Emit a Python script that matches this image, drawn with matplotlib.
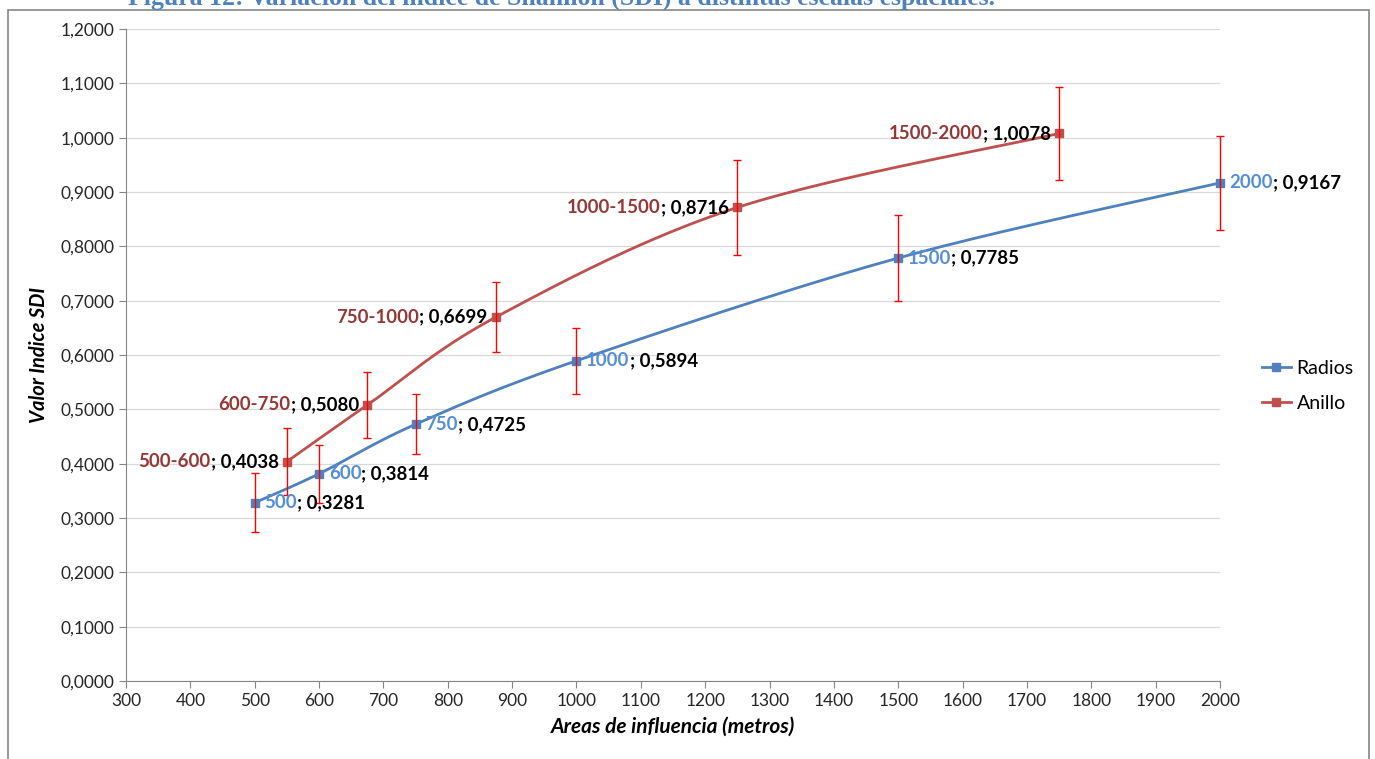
import matplotlib
matplotlib.use("Agg")
import matplotlib.pyplot as plt
from matplotlib.patches import Rectangle
from matplotlib.ticker import FuncFormatter, MultipleLocator
import numpy as np

plt.rcParams['font.family'] = ['Lato', 'DejaVu Sans']

# data
radios_x = [500, 600, 750, 1000, 1500, 2000]
radios_y = [0.3281, 0.3814, 0.4725, 0.5894, 0.7785, 0.9167]
radios_err = [0.054, 0.053, 0.055, 0.061, 0.080, 0.087]
radios_names = ['500', '600', '750', '1000', '1500', '2000']

anillo_x = [550, 675, 875, 1250, 1750]
anillo_y = [0.4038, 0.5080, 0.6699, 0.8716, 1.0078]
anillo_err = [0.061, 0.060, 0.065, 0.087, 0.085]
anillo_names = ['500-600', '600-750', '750-1000', '1000-1500', '1500-2000']

x_ticks = list(range(300, 2001, 100))

BLUE = '#4F81BD'
RED = '#C0504D'
BLUE_LBL = '#558ED5'
RED_LBL = '#953735'


def smooth(xs, ys, sx, sy, n=40):
    """Excel style smoothed line (Catmull-Rom as cubic Bezier), done in screen-like units"""
    p = np.column_stack([np.asarray(xs, float) * sx, np.asarray(ys, float) * sy])
    pts = np.vstack([p[0], p, p[-1]])
    out = []
    t = np.linspace(0, 1, n)[:, None]
    for i in range(1, len(pts) - 2):
        p0, p1, p2, p3 = pts[i - 1], pts[i], pts[i + 1], pts[i + 2]
        c1 = p1 + (p2 - p0) / 6.0
        c2 = p2 - (p3 - p1) / 6.0
        seg = ((1 - t) ** 3) * p1 + 3 * ((1 - t) ** 2) * t * c1 + 3 * (1 - t) * t ** 2 * c2 + t ** 3 * p2
        out.append(seg if i == 1 else seg[1:])
    out = np.vstack(out)
    return out[:, 0] / sx, out[:, 1] / sy


fig = plt.figure(figsize=(13.75, 7.59), dpi=100)
ax = fig.add_axes([126 / 1375, 1 - 681 / 759, (1220 - 126) / 1375, (681 - 29) / 759])

# chart frame and the caption above it (partly off the top, as in the source)
fig.patches.append(Rectangle((8 / 1375, -0.05), (1369 - 8) / 1375, 1.05 - 10 / 759,
                             transform=fig.transFigure, fill=False, edgecolor='#868686', lw=1.2))
fig.text(561 / 1375, 1 - 5 / 759,
         'Figura 12: Variación del índice de Shannon (SDI) a distintas escalas espaciales.',
         ha='center', va='baseline', fontsize=18.5, fontweight='bold',
         family='Liberation Serif', color=BLUE)

sx = 1094 / 1700.0
sy = 543.3 / 0.1

for xs, ys, err, col, lab in [(radios_x, radios_y, radios_err, BLUE, 'Radios'),
                              (anillo_x, anillo_y, anillo_err, RED, 'Anillo')]:
    cx, cy = smooth(xs, ys, sx, sy)
    ax.plot(cx, cy, color=col, lw=2.0, zorder=3, solid_capstyle='round', clip_on=False)
    ax.plot(xs, ys, ls='none', marker='s', ms=5.5, color=col, zorder=4, clip_on=False)
    ax.plot([], [], color=col, lw=2.0, marker='s', ms=5.5, label=lab)
    eb = ax.errorbar(xs, ys, yerr=err, fmt='none', ecolor='#FF0000', elinewidth=1.0,
                     capsize=3, capthick=1.0, zorder=5)
    for art in eb.lines[1] + eb.lines[2]:
        art.set_clip_on(False)

# data labels
lbl_size = 13.4
for x, y, name in zip(radios_x, radios_y, radios_names):
    t1 = ax.annotate(name, (x, y), xytext=(7, 0), textcoords='offset points',
                     ha='left', va='center', fontsize=lbl_size, fontweight='bold',
                     color=BLUE_LBL, zorder=6)
    ax.annotate('; ' + f'{y:.4f}'.replace('.', ','), xy=(1, 0), xycoords=t1,
                ha='left', va='bottom', fontsize=lbl_size, fontweight='bold', color='black', zorder=6)

for x, y, name in zip(anillo_x, anillo_y, anillo_names):
    t1 = ax.annotate('; ' + f'{y:.4f}'.replace('.', ','), (x, y), xytext=(-6, 0),
                     textcoords='offset points', ha='right', va='center', fontsize=lbl_size,
                     fontweight='bold', color='black', zorder=6)
    ax.annotate(name, xy=(0, 0), xycoords=t1, ha='right', va='bottom', fontsize=lbl_size,
                fontweight='bold', color=RED_LBL, zorder=6)

ax.set_xlim(300, 2000)
ax.set_ylim(0, 1.2)
ax.set_xticks(x_ticks)
ax.yaxis.set_major_locator(MultipleLocator(0.1))
ax.yaxis.set_major_formatter(FuncFormatter(lambda v, p: f'{v:.4f}'.replace('.', ',')))
ax.grid(axis='y', color='#D9D9D9', lw=0.9)
ax.set_axisbelow(True)
for s in ['top', 'right']:
    ax.spines[s].set_visible(False)
for s in ['left', 'bottom']:
    ax.spines[s].set_color('#868686')
ax.tick_params(axis='both', colors='#868686', labelcolor='#262626', labelsize=12.5, length=5)
ax.set_xlabel('Areas de influencia (metros)', fontsize=15, fontweight='bold',
              style='italic', labelpad=6)
ax.set_ylabel('Valor Indice SDI', fontsize=14.5, fontweight='bold', style='italic', labelpad=8)

fig.legend(loc='center left', bbox_to_anchor=(1244 / 1375, 1 - 386 / 759), frameon=False,
           fontsize=14, handlelength=1.5, labelspacing=0.95, handletextpad=0.3)

fig.savefig('out.png', dpi=100)
